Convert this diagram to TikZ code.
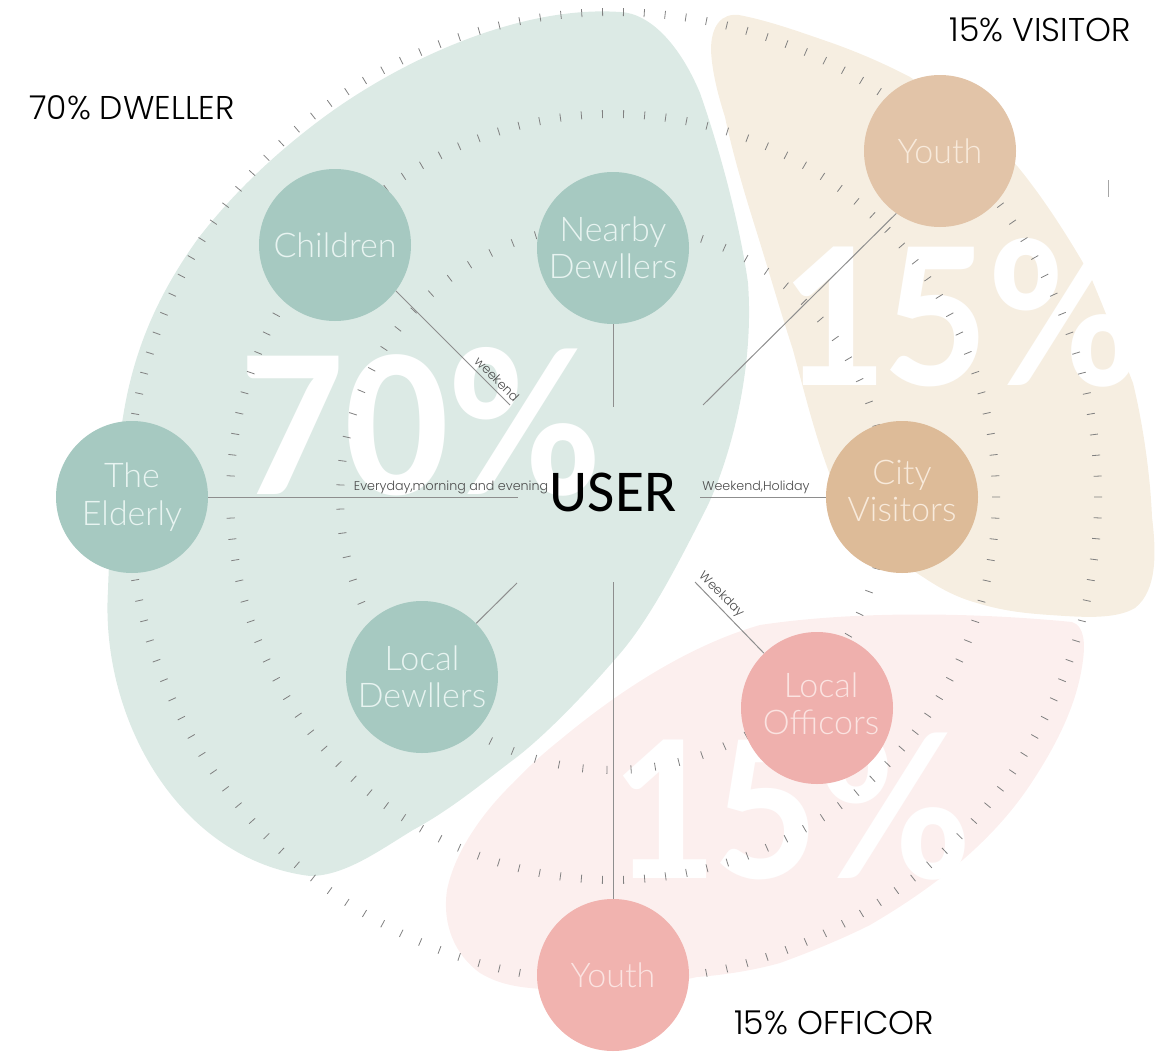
\documentclass[tikz,border=0pt]{standalone}
\usepackage{fontspec}
\setmainfont{Carlito}
\newfontfamily\gothic{Poppins Light}
\newfontfamily\lightf{Lato Light}
\definecolor{tealc}{HTML}{A6C9C1}
\definecolor{peachc}{HTML}{E2C4A8}
\definecolor{cityc}{HTML}{DDBB98}
\definecolor{pinkc}{HTML}{EFB0AD}
\definecolor{pinkd}{HTML}{F1B3AF}
\definecolor{tealb}{HTML}{DCEAE5}
\definecolor{peachb}{HTML}{F6EEE1}
\definecolor{pinkb}{HTML}{FCEFEE}
\definecolor{linec}{HTML}{8E8E8E}
\definecolor{tealt}{HTML}{E8F4F1}
\definecolor{peacht}{HTML}{F8EADB}
\definecolor{pinkt}{HTML}{FBE3E1}
\tikzset{
 person/.style={circle,minimum size=114pt,inner sep=0pt,align=center,font=\lightf\fontsize{25.5}{28}\selectfont},
 ptext/.style={inner sep=0pt,align=center,font=\lightf\fontsize{25.5}{27.5}\selectfont},
 bigpct/.style={text=white,font=\fontsize{160}{160}\selectfont\bfseries,inner sep=0pt,xscale=0.97,transform shape},
 share/.style={font=\gothic\fontsize{24.7}{26}\selectfont,inner sep=0pt},
 small/.style={font=\gothic\fontsize{9.5}{10}\selectfont,text=black!70,inner sep=0pt},
 link/.style={draw=linec,line width=0.75pt},
 tick/.style={draw=black!50,line width=0.6pt}
}
\begin{document}
\begin{tikzpicture}[x=0.75pt,y=-0.75pt]
\useasboundingbox (0,0) rectangle (1157,1053);
\fill[tealb] (620,12) .. controls (650,13) and (680,45) .. (700,93) .. controls (720,150) and (740,225) .. (748,283) .. controls (755,380) and (725,470) .. (707,507) .. controls (680,560) and (650,620) .. (617,657) .. controls (580,700) and (540,740) .. (513,760) .. controls (480,785) and (450,810) .. (413,830) .. controls (380,850) and (345,876) .. (310,876) .. controls (180,860) and (100,720) .. (108,590) .. controls (110,530) and (115,460) .. (123,417) .. controls (135,340) and (165,285) .. (197,240) .. controls (235,190) and (280,150) .. (320,120) .. controls (400,60) and (520,5) .. (620,12) -- cycle;
\fill[peachb] (739,15) .. controls (770,21) and (800,32) .. (832,43) .. controls (860,53) and (885,64) .. (910,77) .. controls (950,105) and (990,135) .. (1018,167) .. controls (1045,200) and (1070,240) .. (1089,273) .. controls (1105,310) and (1120,350) .. (1133,383) .. controls (1142,420) and (1150,470) .. (1152,517) .. controls (1156,550) and (1158,590) .. (1135,608) .. controls (1115,620) and (1080,617) .. (1050,615) .. controls (1020,613) and (1000,610) .. (977,603) .. controls (955,597) and (938,587) .. (923,577) .. controls (880,550) and (850,520) .. (830,475) .. controls (815,435) and (805,395) .. (793,350) .. controls (780,310) and (770,275) .. (757,233) .. controls (745,195) and (733,155) .. (725,117) .. controls (718,95) and (712,72) .. (711,50) .. controls (711,25) and (722,13) .. (739,15) -- cycle;
\fill[pinkb] (1072,622) .. controls (1085,626) and (1085,645) .. (1083,660) .. controls (1078,700) and (1060,740) .. (1030,785) .. controls (990,845) and (930,890) .. (870,925) .. controls (840,940) and (810,952) .. (780,963) .. controls (755,970) and (725,975) .. (697,977) .. controls (640,990) and (580,993) .. (530,988) .. controls (510,986) and (495,982) .. (480,973) .. controls (455,955) and (442,925) .. (447,890) .. controls (455,850) and (485,810) .. (513,783) .. controls (530,765) and (545,752) .. (560,740) .. controls (620,690) and (690,645) .. (760,625) .. controls (860,610) and (980,613) .. (1072,622) -- cycle;
\node[bigpct,anchor=base] (pa) at (420,494) {70\%};
\node[bigpct,anchor=base] (pb) at (960,385) {15\%};
\node[bigpct,anchor=base] (pc) at (790,878) {15\%};
\foreach \r/\n in {273/71,383/114,485/146}{
  \pgfmathsetmacro{\st}{360/\n}
  \foreach \i in {1,...,\n}{
    \pgfmathsetmacro{\a}{\i*\st}
    \draw[tick] ({613+(\r-4)*cos(\a)},{497-(\r-4)*sin(\a)}) -- ({613+(\r+4)*cos(\a)},{497-(\r+4)*sin(\a)});
  }
}
\coordinate (c1) at (510,405);
\coordinate (c2) at (613,407);
\coordinate (c3) at (703,405);
\coordinate (c4) at (518,497);
\coordinate (c5) at (700,497);
\coordinate (c6) at (517,583);
\coordinate (c7) at (695,582);
\coordinate (c8) at (613,582);
\coordinate (m1) at (1108,180);
\coordinate (m2) at (1108,197);
\draw[black!35,line width=0.5pt] (m1) -- (m2);
\node[person,fill=tealc,text=tealt] (children) at (335,245) {Children};
\node[person,fill=tealc,text=tealt] (nearby) at (613,248) {Nearby\\Dewllers};
\node[person,fill=peachc,text=peacht] (youtha) at (940,151) {Youth};
\node[person,fill=tealc,text=tealt] (elderly) at (132,497) {The\\Elderly};
\node[person,fill=tealc,text=tealt] (local) at (422,677) {Local\\Dewllers};
\node[person,fill=cityc] (city) at (902,497) {};
\node[person,fill=pinkc] (officors) at (817,708) {};
\node[person,fill=pinkd,text=pinkt] (youthb) at (613,975) {Youth};
\node[ptext,text=peacht] (cityt) at (902,491) {City\\Visitors};
\node[ptext,text=pinkt] (officorst) at (821,704) {Local\\Officors};
\draw[link] (children.-37) -- (c1);
\draw[link] (nearby) -- (c2);
\draw[link] (youtha.235) -- (c3);
\draw[link] (elderly) -- (c4);
\draw[link] (city) -- (c5);
\draw[link] (local) -- (c6);
\draw[link] (officors) -- (c7);
\draw[link] (youthb) -- (c8);
\node[font=\fontsize{44.5}{44}\selectfont,text=black,inner sep=0pt] (user) at (613,492) {USER};
\node[small] (t1) at (451,487) {Everyday,morning and evening};
\node[small] (t2) at (756,487) {Weekend,Holiday};
\node[small,rotate=-45] (t3) at (497,379) {weekend};
\node[small,rotate=-45] (t4) at (721,595) {Weekday};
\node[share] (s1) at (132,108) {70\% DWELLER};
\node[share] (s2) at (1040,30) {15\% VISITOR};
\node[share] (s3) at (834,1023) {15\% OFFICOR};
\end{tikzpicture}
\end{document}
